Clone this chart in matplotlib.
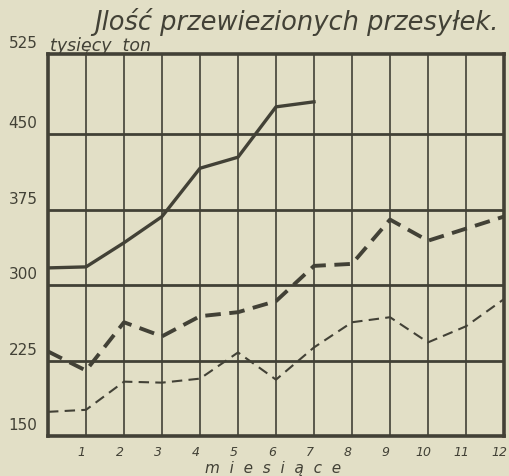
import numpy as np
import matplotlib.pyplot as plt

# months (0 = start) and thousands of tons
months = np.arange(0, 13)
solid_vals = [317, 318, 342, 368, 416, 427, 477, 482]
thick_vals = [234, 215, 263, 249, 269, 273, 284, 319, 321, 365, 344, 356, 368]
thin_vals = [174, 176, 204, 203, 207, 233, 206, 238, 263, 268, 243, 259, 286]
yticks = [150, 225, 300, 375, 450]
xticks = list(range(1, 13))

bg = '#e2dfc6'
ink = '#424136'

fig = plt.figure(figsize=(5.09, 4.77), dpi=100, facecolor=bg)
ax = fig.add_axes([48/509, 40/477, 456/509, 382/477], facecolor=bg)

ax.set_xlim(0, 12)
ax.set_ylim(150, 529.5)

# grid
for m in xticks[:-1]:
    ax.axvline(m, color=ink, lw=1.2, zorder=1)
for v in yticks[1:]:
    ax.axhline(v, color=ink, lw=2.0, zorder=1)

ax.plot(months[:len(solid_vals)], solid_vals, color=ink, lw=2.4,
        solid_joinstyle='round', zorder=3)
ax.plot(months, thick_vals, color=ink, lw=2.8, dashes=(4, 2.2), zorder=3)
ax.plot(months, thin_vals, color=ink, lw=1.5, dashes=(5, 3), zorder=3)

for s in ax.spines.values():
    s.set_linewidth(2.6)
    s.set_color(ink)
ax.set_xticks([])
ax.set_yticks([])

# labels
for v in yticks:
    ax.annotate(str(v), (0, v), xytext=(-7.5, 8), textcoords='offset points',
                ha='right', va='center', fontsize=11, color=ink,
                annotation_clip=False)
ax.annotate('525', (0, 1), xycoords='axes fraction', xytext=(-7.5, 8),
            textcoords='offset points', ha='right', va='center', fontsize=11,
            color=ink, annotation_clip=False)
for m in xticks:
    ax.annotate(str(m), (m, 150), xytext=(-3, -11), textcoords='offset points',
                ha='center', va='center', fontsize=9, style='italic', color=ink,
                annotation_clip=False)

fig.text(50/509, 1 - 46/477, 'tysięcy  ton', fontsize=12.5, style='italic',
         color=ink, ha='left', va='center')
fig.text(273/509, 1 - 469/477, 'm  i  e  s  i  ą  c  e', fontsize=11,
         style='italic', color=ink, ha='center', va='center')
fig.text(296/509, 1 - 22/477, 'Jlość przewiezionych przesyłek.', fontsize=18.5,
         style='italic', color=ink, ha='center', va='center')

fig.savefig('out.png', dpi=100, facecolor=bg)
